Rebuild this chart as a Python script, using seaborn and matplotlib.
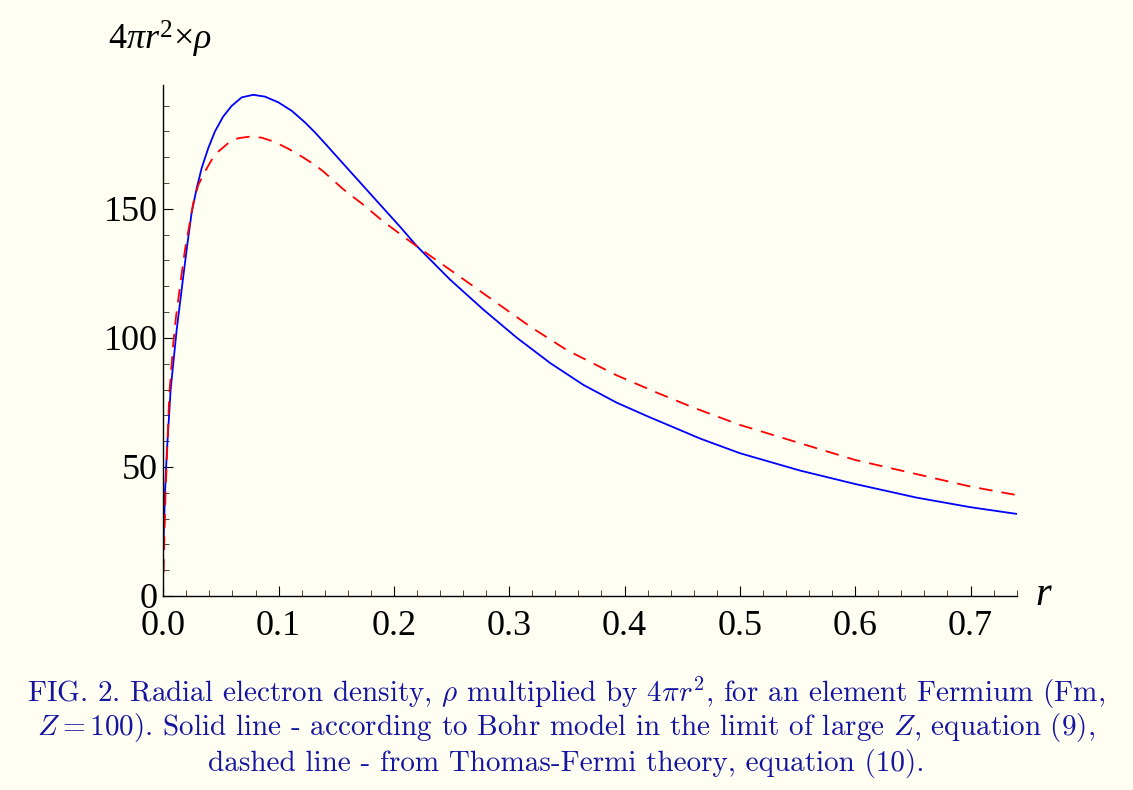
import matplotlib
matplotlib.use("Agg")
import matplotlib.pyplot as plt
import seaborn as sns
import pandas as pd
from matplotlib.ticker import MultipleLocator, FixedLocator, FixedFormatter

# ---- data ----
bohr_r = [0.0003, 0.0015, 0.003, 0.0064, 0.0116, 0.0174, 0.0208, 0.0246, 0.029,
          0.0333, 0.039, 0.0448, 0.052, 0.0593, 0.068, 0.078, 0.0882, 0.0997,
          0.1114, 0.1229, 0.1316, 0.1402, 0.1474, 0.1764, 0.2053, 0.2198,
          0.2487, 0.2775, 0.3065, 0.3354, 0.3643, 0.3932, 0.4221, 0.4423, 0.4655,
          0.5002, 0.5522, 0.5999, 0.6534, 0.700, 0.740]
bohr_y = [22, 40, 55, 80, 103, 124, 136, 148.5, 158,
          165.8, 173.5, 180, 185.8, 189.9, 193.2, 194.2, 193.5, 191.3,
          188, 183.5, 179.6, 175.4, 171.8, 157.4, 143.1, 135.6,
          122.6, 111.0, 100.1, 90.3, 81.8, 74.9, 69.2, 65.4, 61.0,
          55.3, 48.6, 43.4, 38.1, 34.4, 31.8]

tf_r = [0.0002, 0.002, 0.0052, 0.0087, 0.011, 0.016, 0.0188, 0.026, 0.0304,
        0.0362, 0.042, 0.0477, 0.0564, 0.065, 0.0752, 0.0853, 0.0969, 0.1084,
        0.12, 0.1316, 0.1388, 0.1561, 0.1735, 0.1908, 0.2082, 0.2198, 0.2487,
        0.2834, 0.3181, 0.3499, 0.3932, 0.428, 0.4597, 0.5, 0.6, 0.7, 0.74]
tf_y = [9, 40, 78, 98, 108, 125, 134, 152.2, 159.3,
        164.5, 169, 172.2, 175.5, 177.4, 178.0, 177.6, 175.9, 173.3,
        170.3, 167.0, 164.5, 157.6, 151.6, 145.1, 139.3, 135.5, 126.4,
        115.4, 104.4, 95.3, 85.5, 78.8, 73.0, 66.3, 52.7, 42.4, 39.1]

x_ticks = [0.0, 0.1, 0.2, 0.3, 0.4, 0.5, 0.6, 0.7]
x_labels = ["0.0", "0.1", "0.2", "0.3", "0.4", "0.5", "0.6", "0.7"]
y_ticks = [0, 50, 100, 150]
y_labels = ["0", "50", "100", "150"]

caption_lines = [
    r"FIG. 2. Radial electron density, $\rho$ multiplied by $4\pi r^2$, for an element Fermium (Fm,",
    r"$Z = 100$). Solid line - according to Bohr model in the limit of large $Z$, equation (9),",
    r"dashed line - from Thomas-Fermi theory, equation (10).",
]

# ---- style ----
sns.set_style("ticks")
plt.rcParams["font.family"] = ["Liberation Serif", "DejaVu Serif"]
plt.rcParams["mathtext.fontset"] = "custom"
plt.rcParams["mathtext.rm"] = "Liberation Serif"
plt.rcParams["mathtext.it"] = "Liberation Serif:italic"
plt.rcParams["text.color"] = "black"
plt.rcParams["xtick.labelcolor"] = "black"
plt.rcParams["ytick.labelcolor"] = "black"

bg = "#fefef2"
fig = plt.figure(figsize=(11.33, 7.9), dpi=100, facecolor=bg)
ax = fig.add_axes([0.1441, 0.2456, 0.8973 - 0.1441, 0.8924 - 0.2456])
ax.set_facecolor(bg)

df_b = pd.DataFrame({"r": bohr_r, "y": bohr_y})
df_t = pd.DataFrame({"r": tf_r, "y": tf_y})
sns.lineplot(data=df_b, x="r", y="y", ax=ax, color="#0000ff", lw=1.3, sort=False)
sns.lineplot(data=df_t, x="r", y="y", ax=ax, color="#ff0000", lw=1.3, sort=False)
ax.lines[-1].set_dashes((7.5, 5))

ax.set_xlim(0, 0.74)
ax.set_ylim(0, 198)
ax.set_xlabel("")
ax.set_ylabel("")

for s in ["top", "right"]:
    ax.spines[s].set_visible(False)
for s in ["left", "bottom"]:
    ax.spines[s].set_linewidth(1.0)
    ax.spines[s].set_color("black")

ax.xaxis.set_major_locator(FixedLocator(x_ticks))
ax.xaxis.set_major_formatter(FixedFormatter(x_labels))
ax.xaxis.set_minor_locator(MultipleLocator(0.02))
ax.yaxis.set_major_locator(FixedLocator(y_ticks))
ax.yaxis.set_major_formatter(FixedFormatter(y_labels))
ax.yaxis.set_minor_locator(MultipleLocator(10))

ax.tick_params(axis="both", which="major", direction="in", length=7.5, width=0.8,
               color="black", labelsize=26, labelcolor="black")
ax.tick_params(axis="both", which="minor", direction="in", length=4.5, width=0.7,
               color="#444444")
ax.tick_params(axis="x", which="major", pad=10)
ax.tick_params(axis="y", which="major", pad=4)

# axis labels
ax.text(1.021, 0.0, r"$r$", transform=ax.transAxes, fontsize=29,
        ha="left", va="center", color="black")
fig.text(108 / 1133, 1 - 50 / 790, r"$4\pi r^2{\times}\rho$", fontsize=26,
         ha="left", va="baseline", color="black")

# caption
ys = [693, 728, 763]
for line, yy in zip(caption_lines, ys):
    fig.text(0.5, 1 - yy / 790, line, ha="center", va="center",
             fontsize=21, color="#1414a0", family=["cmr10", "DejaVu Serif"],
             math_fontfamily="cm")

fig.savefig("out.png", dpi=100, facecolor=bg)
